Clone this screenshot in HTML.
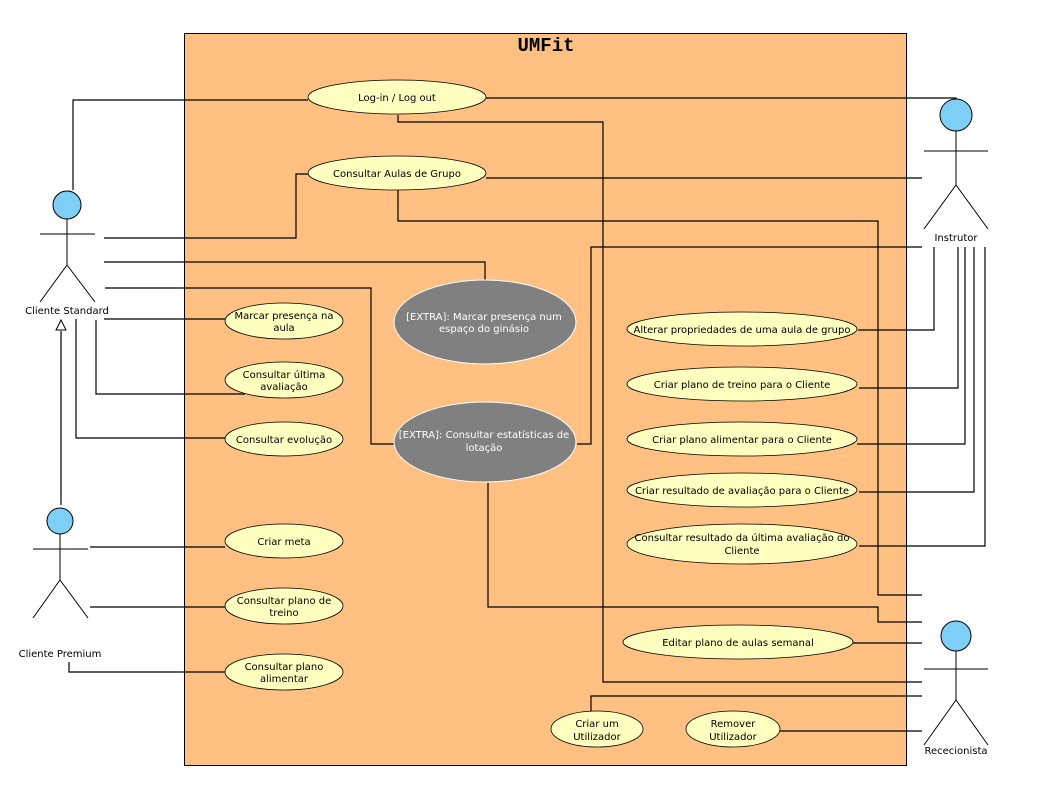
<!DOCTYPE html>
<html><head><meta charset="utf-8"><style>body{margin:0;background:#fff}svg{display:block}text{font-family:"DejaVu Sans",sans-serif;font-size:10px;fill:#000}</style></head><body>
<svg width="1050" height="794" viewBox="0 0 1050 794" xmlns="http://www.w3.org/2000/svg">
<rect x="184.5" y="33.5" width="722" height="732" fill="#ffc081" stroke="#000"/>
<text x="546" y="51" text-anchor="middle" style="font-family:'Liberation Mono',monospace;font-size:19px;font-weight:bold">UMFit</text>
<g fill="none" stroke="#000" stroke-width="1.2">
<polyline points="73,190 73,100 308,100"/>
<polyline points="486,98 956,98 956,100"/>
<polyline points="398,115 398,122 603,122 603,682 922,682"/>
<polyline points="104,238 296,238 296,174 308,174"/>
<polyline points="486,178 922,178"/>
<polyline points="398,190 398,221 878,221 878,595 922,595"/>
<polyline points="488,483 488,607 878,607 878,622 922,622"/>
<polyline points="104,262 485,262 485,280"/>
<polyline points="105,288 371,288 371,444 394,444"/>
<polyline points="104,319 225,319"/>
<polyline points="96,320 96,394 245,394"/>
<polyline points="76,319 76,438 225,438"/>
<polyline points="61,331 61,505"/>
<polyline points="577,444 591,444 591,247 922,247"/>
<polyline points="934,247 934,330 858,330"/>
<polyline points="958,247 958,388 859,388"/>
<polyline points="965,247 965,444 857,444"/>
<polyline points="974,247 974,492 859,492"/>
<polyline points="985,247 985,546 859,546"/>
<polyline points="90,547 225,547"/>
<polyline points="90,607 225,607"/>
<polyline points="69,662 69,672 225,672"/>
<polyline points="853,643 922,643"/>
<polyline points="591,712 591,696 922,696"/>
<polyline points="779,731 922,731"/>
</g>
<polygon points="61,320 56,330 66,330" fill="#fff" stroke="#000"/>
<g stroke="#000" fill="none">
<circle cx="67" cy="205" r="14" fill="#7dcff5"/>
<path d="M40 234H95M67 219V265L40 302M67 265L95 302"/>
<circle cx="60" cy="521" r="13" fill="#7dcff5"/>
<path d="M33 549H88M60 534V580L33 618M60 580L88 618"/>
<circle cx="956" cy="115" r="16" fill="#7dcff5"/>
<path d="M924 151H988M956 131V185L924 229M956 185L988 229"/>
<circle cx="956" cy="636" r="15" fill="#7dcff5"/>
<path d="M924 669H988M956 651V700L924 745M956 700L988 745"/>
</g>
<text x="67" y="314" text-anchor="middle">Cliente Standard</text>
<text x="60" y="657" text-anchor="middle">Cliente Premium</text>
<text x="956" y="241" text-anchor="middle">Instrutor</text>
<text x="956" y="754" text-anchor="middle">Rececionista</text>
<g fill="#ffffc0" stroke="#000" stroke-width="0.8">
<ellipse cx="397" cy="97" rx="89" ry="17"/>
<ellipse cx="397" cy="173" rx="89" ry="17"/>
<ellipse cx="284" cy="321" rx="59" ry="18"/>
<ellipse cx="284" cy="380" rx="59" ry="18"/>
<ellipse cx="284" cy="439" rx="59" ry="17"/>
<ellipse cx="284" cy="541" rx="59" ry="17"/>
<ellipse cx="284" cy="606" rx="59" ry="18"/>
<ellipse cx="284" cy="672" rx="59" ry="18"/>
<ellipse cx="742" cy="329" rx="115" ry="17"/>
<ellipse cx="742" cy="384" rx="115" ry="17"/>
<ellipse cx="742" cy="439" rx="115" ry="17"/>
<ellipse cx="742" cy="490" rx="115" ry="17"/>
<ellipse cx="742" cy="544" rx="115" ry="20"/>
<ellipse cx="738" cy="642" rx="115" ry="17"/>
<ellipse cx="597" cy="729" rx="46" ry="18"/>
<ellipse cx="733" cy="729" rx="47" ry="18"/>
</g>
<g fill="#808080" stroke="#fff"><ellipse cx="485" cy="322" rx="91" ry="42"/><ellipse cx="485" cy="442" rx="91" ry="40"/></g>
<g text-anchor="middle">
<text x="397" y="101">Log-in / Log out</text>
<text x="397" y="177">Consultar Aulas de Grupo</text>
<text x="284" y="319">Marcar presença na</text><text x="284" y="331">aula</text>
<text x="284" y="378">Consultar última</text><text x="284" y="390">avaliação</text>
<text x="284" y="443">Consultar evolução</text>
<text x="284" y="545">Criar meta</text>
<text x="284" y="604">Consultar plano de</text><text x="284" y="616">treino</text>
<text x="284" y="670">Consultar plano</text><text x="284" y="682">alimentar</text>
<text x="742" y="333">Alterar propriedades de uma aula de grupo</text>
<text x="742" y="388">Criar plano de treino para o Cliente</text>
<text x="742" y="443">Criar plano alimentar para o Cliente</text>
<text x="742" y="494">Criar resultado de avaliação para o Cliente</text>
<text x="742" y="541">Consultar resultado da última avaliação do</text><text x="742" y="554">Cliente</text>
<text x="738" y="646">Editar plano de aulas semanal</text>
<text x="597" y="727">Criar um</text><text x="597" y="740">Utilizador</text>
<text x="733" y="727">Remover</text><text x="733" y="740">Utilizador</text>
<text x="484" y="320" style="fill:#fff">[EXTRA]: Marcar presença num</text><text x="484" y="332" style="fill:#fff">espaço do ginásio</text>
<text x="484" y="438" style="fill:#fff">[EXTRA]: Consultar estatísticas de</text><text x="484" y="451" style="fill:#fff">lotação</text>
</g>
</svg>
</body></html>
